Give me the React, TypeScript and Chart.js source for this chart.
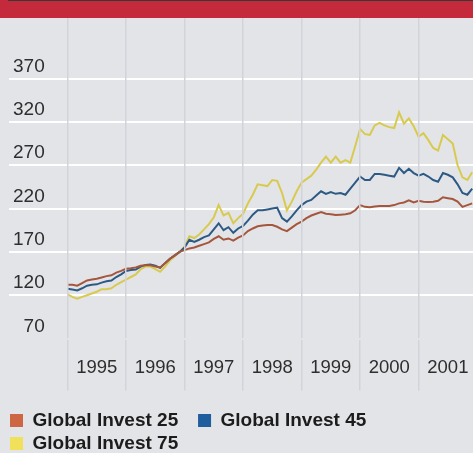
import React, { useEffect, useRef } from "react";
import { Chart, registerables } from "chart.js";

Chart.register(...registerables);

// ---------- data ----------
const seriesNames = ["Global Invest 25", "Global Invest 45", "Global Invest 75"];
const firstYear = 1995;
const yearLabels = [1995, 1996, 1997, 1998, 1999, 2000, 2001];
const yTickValues = [70, 120, 170, 220, 270, 320, 370];

// monthly index values, Jan 1995 .. Dec 2001
const invest25 = [
  132, 132, 131, 134, 137, 138, 139, 140.5, 142, 143, 146, 148,
  150.5, 151, 152, 154, 154.5, 154.5, 153, 152, 157, 162, 166, 170,
  172, 174, 175, 177, 179, 181, 185, 188, 184, 185.5, 183, 186.5,
  189, 194, 197, 199.5, 200.5, 201, 201, 199, 196, 194, 198, 202,
  205, 209, 212, 214, 216, 214, 213.5, 212.5, 213, 213.5, 214.5, 218,
  224, 222, 221.5, 222.5, 223, 223, 223, 224, 226, 227, 229.5, 227,
  229, 228, 227.5, 228, 229, 233, 232, 231, 228, 222, 224, 226,
];
const invest45 = [
  127.5, 126.5, 125.5, 128, 131, 132, 132.5, 134.5, 136, 137, 141, 144,
  148, 149, 149.5, 153, 155, 155.5, 154, 151.5, 157, 162, 166, 170,
  175, 184, 181.5, 184, 187, 189, 196, 203, 195, 198.5, 192, 197,
  200, 206, 213, 218, 218, 219, 220, 221, 209, 205, 211, 218,
  224, 228, 230, 235, 240, 237, 239, 237, 238, 236, 243, 250,
  257, 253, 253, 260, 260, 259, 258, 257, 267, 261, 266, 261,
  258, 260, 257, 253, 251, 261, 259, 256, 248, 238, 236, 243,
];
const invest75 = [
  121, 118, 116, 118, 120, 122, 124, 127, 127, 128, 132, 135,
  138, 141, 144, 150, 153, 153, 150, 147, 153, 160, 165, 170,
  176, 188, 186, 190, 196, 202, 210, 224, 212, 215, 203, 209,
  214, 226, 236, 248, 247, 246, 253, 252, 238, 218, 228, 240,
  250, 254, 258, 265, 273, 280, 273, 280, 273, 276, 273, 292,
  312, 306, 305, 316, 319, 316, 314, 313, 331, 318, 324, 315,
  303, 307, 299, 290, 287, 305, 300, 295, 270, 256, 253, 262,
];

const lineColors = ["#a5573d", "#2d5a85", "#d8ca4e"];
const legendColors = ["#cd6643", "#1f5e9c", "#f0e05a"];

const toPoints = (vals: number[]) =>
  vals.map((v, i) => ({ x: firstYear + i / 12, y: v }));

export default function App() {
  const ref = useRef<HTMLCanvasElement | null>(null);

  useEffect(() => {
    if (!ref.current) return;
    const seriesValues = [invest25, invest45, invest75];
    const chart = new Chart(ref.current, {
      type: "line",
      data: {
        datasets: seriesNames.map((name, i) => ({
          label: name,
          data: toPoints(seriesValues[i]),
          borderColor: lineColors[i],
          backgroundColor: legendColors[i],
          borderWidth: 2,
          pointRadius: 0,
          tension: 0,
          fill: false,
        })),
      },
      options: {
        animation: false,
        responsive: false,
        maintainAspectRatio: false,
        events: [],
        layout: { padding: { top: 18, left: 6, right: 0, bottom: 0 } },
        plugins: {
          tooltip: { enabled: false },
          legend: {
            position: "bottom",
            align: "start",
            labels: {
              boxWidth: 13,
              boxHeight: 13,
              padding: 4,
              color: "#1c1c1c",
              font: { family: "'Liberation Sans', Arial, sans-serif", size: 19, weight: "bold" },
              generateLabels: (c: any) =>
                c.data.datasets.map((ds: any, i: number) => ({
                  text: ds.label + "   ",
                  fillStyle: legendColors[i],
                  strokeStyle: legendColors[i],
                  lineWidth: 0,
                  hidden: false,
                  datasetIndex: i,
                  fontColor: "#1c1c1c",
                })),
            },
          },
        },
        scales: {
          x: {
            type: "linear",
            position: "bottom",
            min: firstYear - 1,
            max: 2001.93,
            afterBuildTicks: (scale: any) => {
              scale.ticks = [firstYear - 1, ...yearLabels].map((y) => ({ value: y + 0.5 }));
            },
            afterFit: (scale: any) => {
              scale.height = 68.5;
            },
            grid: {
              offset: true,
              z: 1,
              color: (ctx: any) => (ctx.index === 0 ? "rgba(0,0,0,0)" : "#d3d4d9"),
              lineWidth: 1.5,
              drawTicks: true,
              tickLength: 52,
            },
            border: { display: true, color: "#383838", width: 2, z: 0 },
            ticks: {
              autoSkip: false,
              maxRotation: 0,
              padding: -33.8,
              color: "#2e2e2e",
              font: { family: "'Liberation Sans', Arial, sans-serif", size: 18.5 },
              callback: (v: any) => (v < firstYear ? "" : String(Math.floor(v))),
            },
          },
          y: {
            type: "linear",
            position: "left",
            min: 70,
            max: 440,
            afterBuildTicks: (scale: any) => {
              scale.ticks = yTickValues.map((v) => ({ value: v }));
            },
            afterFit: (scale: any) => {
              scale.width = 3;
            },
            grid: {
              color: (ctx: any) => (ctx.tick && ctx.tick.value === 70 ? "rgba(0,0,0,0)" : "#ffffff"),
              lineWidth: 2,
              drawTicks: false,
            },
            border: { display: false },
            ticks: {
              mirror: true,
              crossAlign: "far",
              padding: 4,
              labelOffset: -12,
              color: "#2e2e2e",
              font: { family: "'Liberation Sans', Arial, sans-serif", size: 19 },
              callback: (v: any) => String(v),
            },
          },
        },
      } as any,
    });
    return () => chart.destroy();
  }, []);

  return (
    <div
      style={{
        position: "fixed",
        left: 0,
        top: 0,
        width: 473,
        height: 453,
        overflow: "hidden",
        background: "#e3e4e8",
      }}
    >
      <div
        style={{
          position: "absolute",
          left: 0,
          top: 0,
          width: 473,
          height: 18,
          background: "#c4293c",
        }}
      />
      <canvas
        ref={ref}
        width={473}
        height={463}
        style={{ position: "absolute", left: 0, top: 0, display: "block" }}
      />
    </div>
  );
}
